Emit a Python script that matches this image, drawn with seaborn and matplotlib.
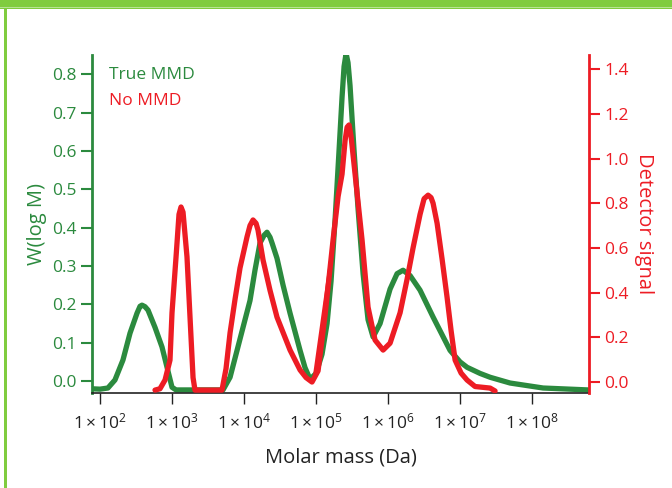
import numpy as np
import pandas as pd
import matplotlib
matplotlib.use("Agg")
import matplotlib.pyplot as plt
from matplotlib.patches import Rectangle
import seaborn as sns

# log10(molar mass) and W(log M) for the true distribution (left axis)
true_logm = [1.889, 2.0, 2.11, 2.208, 2.319, 2.417, 2.514, 2.556, 2.583, 2.625,
             2.667, 2.764, 2.861, 2.931, 3.0, 3.056, 3.708, 3.806, 3.903, 3.986,
             4.083, 4.153, 4.222, 4.278, 4.319, 4.361, 4.389, 4.458, 4.542, 4.639,
             4.778, 4.847, 4.917, 5.0, 5.083, 5.153, 5.208, 5.264, 5.319, 5.361,
             5.389, 5.417, 5.444, 5.472, 5.528, 5.583, 5.653, 5.722, 5.792, 5.889,
             6.028, 6.125, 6.208, 6.306, 6.444, 6.625, 6.861, 7.0, 7.097, 7.278,
             7.417, 7.694, 8.153, 8.778]
true_w = [-0.02, -0.021, -0.018, 0.003, 0.055, 0.125, 0.177, 0.195, 0.198, 0.194,
          0.185, 0.14, 0.089, 0.036, -0.016, -0.023, -0.023, 0.01, 0.08, 0.14,
          0.21, 0.29, 0.36, 0.38, 0.388, 0.375, 0.36, 0.32, 0.25, 0.177,
          0.08, 0.035, 0.005, 0.02, 0.07, 0.15, 0.26, 0.42, 0.60, 0.74,
          0.82, 0.854, 0.83, 0.77, 0.60, 0.45, 0.28, 0.16, 0.115, 0.15,
          0.24, 0.28, 0.289, 0.275, 0.237, 0.167, 0.08, 0.05, 0.036, 0.02,
          0.01, -0.005, -0.018, -0.023]

# log10(molar mass) and detector signal without MMD (right axis)
no_logm = [2.764, 2.833, 2.903, 2.972, 3.0, 3.056, 3.097, 3.125, 3.153, 3.208,
           3.25, 3.292, 3.319, 3.694, 3.75, 3.806, 3.875, 3.944, 4.042, 4.083,
           4.125, 4.167, 4.194, 4.264, 4.361, 4.458, 4.639, 4.778, 4.861, 4.944,
           5.028, 5.125, 5.236, 5.306, 5.361, 5.403, 5.431, 5.458, 5.486, 5.542,
           5.639, 5.722, 5.819, 5.931, 6.028, 6.167, 6.264, 6.347, 6.444, 6.5,
           6.556, 6.597, 6.625, 6.681, 6.75, 6.819, 6.875, 6.931, 7.014, 7.097,
           7.208, 7.417, 7.486]
no_signal = [-0.036, -0.03, 0.009, 0.098, 0.31, 0.56, 0.75, 0.783, 0.76, 0.56,
             0.29, 0.02, -0.036, -0.036, 0.06, 0.22, 0.37, 0.51, 0.65, 0.70,
             0.725, 0.71, 0.68, 0.546, 0.41, 0.29, 0.143, 0.054, 0.02, 0.0,
             0.05, 0.3, 0.635, 0.83, 0.93, 1.08, 1.14, 1.15, 1.10, 0.93,
             0.635, 0.335, 0.188, 0.143, 0.174, 0.31, 0.46, 0.60, 0.75, 0.82,
             0.836, 0.825, 0.80, 0.71, 0.55, 0.38, 0.23, 0.098, 0.04, 0.009,
             -0.02, -0.027, -0.04]

x_ticks = [1e2, 1e3, 1e4, 1e5, 1e6, 1e7, 1e8]
x_labels = ["1\u2009×\u200910$^{2}$", "1\u2009×\u200910$^{3}$",
            "1\u2009×\u200910$^{4}$", "1\u2009×\u200910$^{5}$",
            "1\u2009×\u200910$^{6}$", "1\u2009×\u200910$^{7}$",
            "1\u2009×\u200910$^{8}$"]
w_ticks = [0.0, 0.1, 0.2, 0.3, 0.4, 0.5, 0.6, 0.7, 0.8]
sig_ticks = [0.0, 0.2, 0.4, 0.6, 0.8, 1.0, 1.2, 1.4]

GREEN = "#2b8a3e"
RED = "#ed1c24"
FRAME = "#80cc3f"

sns.set_style("white")
plt.rcParams["font.family"] = ["Open Sans", "DejaVu Sans"]
plt.rcParams["mathtext.fontset"] = "custom"
plt.rcParams["mathtext.rm"] = "Open Sans"
plt.rcParams["mathtext.default"] = "regular"

true_df = pd.DataFrame({"M": 10 ** np.array(true_logm), "W": true_w})
no_df = pd.DataFrame({"M": 10 ** np.array(no_logm), "S": no_signal})

fig = plt.figure(figsize=(6.72, 4.88), dpi=100)
ax = fig.add_axes([92 / 672, 1 - 393 / 488, 497 / 672, 338 / 488])
ax2 = ax.twinx()

sns.lineplot(data=true_df, x="M", y="W", ax=ax, color=GREEN, lw=3.8,
             sort=False, zorder=2)
sns.lineplot(data=no_df, x="M", y="S", ax=ax2, color=RED, lw=3.8,
             sort=False, zorder=3)

# the smeared wedge on the rising edge of the main red peak
seg = no_df[(no_df["M"] >= 10 ** 4.94) & (no_df["M"] <= 10 ** 5.31)]
ax2.fill(seg["M"], seg["S"], color=RED, lw=0, zorder=3)

ax.set_xscale("log")
ax.set_xlim(10 ** 1.889, 10 ** 8.79)
ax.set_ylim(-0.031, 0.85)
ax2.set_ylim(-0.049, 1.463)

ax.set_xticks(x_ticks)
ax.set_xticklabels(x_labels, fontsize=12.5, color="#222222")
ax.xaxis.set_minor_locator(matplotlib.ticker.NullLocator())
ax.set_yticks(w_ticks)
ax.set_yticklabels([f"{v:.1f}" for v in w_ticks], fontsize=12.5, color=GREEN)
ax2.set_yticks(sig_ticks)
ax2.set_yticklabels([f"{v:.1f}" for v in sig_ticks], fontsize=12.5, color=RED)

ax.tick_params(axis="x", direction="out", length=8, width=1, color="#222222", pad=6,
               bottom=True)
ax.tick_params(axis="y", direction="out", length=8, width=1.5, color=GREEN, pad=3,
               left=True)
ax2.tick_params(axis="y", direction="out", length=8, width=1.5, color=RED, pad=3,
                right=True)

for a in (ax, ax2):
    a.spines["top"].set_visible(False)
    a.set_xlabel("")
    a.set_ylabel("")
ax.spines["right"].set_visible(False)
ax2.spines["left"].set_visible(False)
ax2.spines["bottom"].set_visible(False)
ax.spines["left"].set_color(GREEN)
ax.spines["left"].set_linewidth(2)
ax2.spines["right"].set_color(RED)
ax2.spines["right"].set_linewidth(2)
ax.spines["bottom"].set_color("#222222")
ax.spines["bottom"].set_linewidth(1.2)

ax.set_xlabel("Molar mass (Da)", fontsize=14.5, color="#222222", labelpad=11)
ax.set_ylabel("W(log M)", fontsize=14.5, color=GREEN, labelpad=4)
ax2.set_ylabel("Detector signal", fontsize=14.5, color=RED, rotation=270,
               labelpad=18)

ax.text(0.035, 0.94, "True MMD", transform=ax.transAxes, color=GREEN,
        fontsize=12.5, va="center")
ax.text(0.035, 0.865, "No MMD", transform=ax.transAxes, color=RED,
        fontsize=12.5, va="center")

# green page frame
fig.add_artist(Rectangle((0, 1 - 9 / 488), 1, 9 / 488, transform=fig.transFigure,
                         color=FRAME, lw=0))
fig.add_artist(Rectangle((0, 1 - 7.6 / 488), 1, 1 / 488, transform=fig.transFigure,
                         color="#b8e394", lw=0))
fig.add_artist(Rectangle((4 / 672, 0), 2.5 / 672, 1 - 9 / 488,
                         transform=fig.transFigure, color=FRAME, lw=0))

fig.savefig("out.png", dpi=100)
